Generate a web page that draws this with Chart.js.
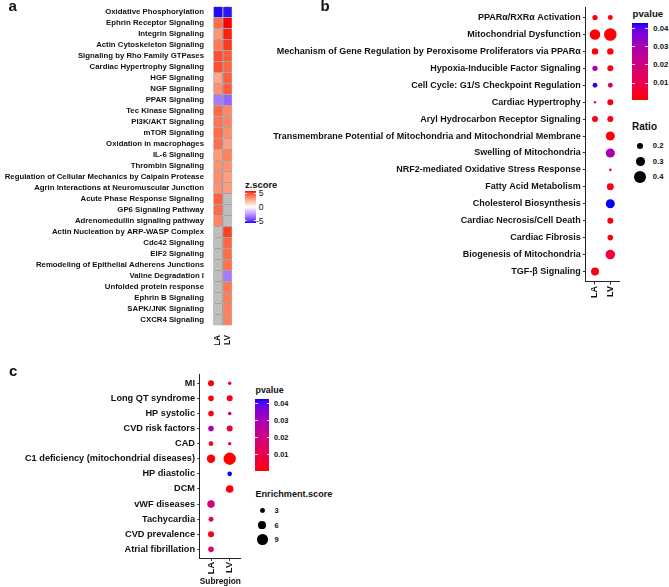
<!DOCTYPE html>
<html><head><meta charset="utf-8">
<script src="https://cdn.jsdelivr.net/npm/chart.js@4.4.1/dist/chart.umd.min.js"></script>
<style>
html,body{margin:0;padding:0;background:#fff;}
body{width:669px;height:587px;position:relative;overflow:hidden;font-family:"Liberation Sans",Arial,sans-serif;color:#111;}
canvas{position:absolute;}
.t{position:absolute;white-space:nowrap;line-height:1;color:#111;}
.d{position:absolute;border-radius:50%;background:#000;}
.bar{position:absolute;}
</style></head><body>
<script>
// ===================== DATA =====================
// Panel a: heatmap of z-scores
const heatPathways = [
  'Oxidative Phosphorylation','Ephrin Receptor Signaling','Integrin Signaling','Actin Cytoskeleton Signaling',
  'Signaling by Rho Family GTPases','Cardiac Hypertrophy Signaling','HGF Signaling','NGF Signaling','PPAR Signaling',
  'Tec Kinase Signaling','PI3K/AKT Signaling','mTOR Signaling','Oxidation in macrophages','IL-6 Signaling',
  'Thrombin Signaling','Regulation of Cellular Mechanics by Calpain Protease','Agrin Interactions at Neuromuscular Junction',
  'Acute Phase Response Signaling','GP6 Signaling Pathway','Adrenomedullin signaling pathway',
  'Actin Nucleation by ARP-WASP Complex','Cdc42 Signaling','EIF2 Signaling','Remodeling of Epithelial Adherens Junctions',
  'Valine Degradation I','Unfolded protein response','Ephrin B Signaling','SAPK/JNK Signaling','CXCR4 Signaling'
];
const heatColumns = ['LA','LV'];
const zLA = [-5.7,4.2,3.2,3.9,4.9,4.9,2.6,3.3,-3.3,4.3,4.0,4.2,4.2,3.0,3.3,3.4,3.3,4.5,4.3,3.6,
             null,null,null,null,null,null,null,null,null];
const zLV = [-5.6,5.8,5.6,5.3,4.6,4.4,4.6,4.6,-3.8,3.5,3.6,3.4,2.9,3.7,3.3,2.9,3.0,null,null,null,
             5.2,4.4,4.2,4.1,-3.3,3.9,3.8,3.7,3.7];
const zBreaks = [5,0,-5];

// Panel b: pathway enrichment bubbles
const bTerms = [
  'PPARα/RXRα Activation','Mitochondrial Dysfunction','Mechanism of Gene Regulation by Peroxisome Proliferators via PPARα',
  'Hypoxia-Inducible Factor Signaling','Cell Cycle: G1/S Checkpoint Regulation','Cardiac Hypertrophy',
  'Aryl Hydrocarbon Receptor Signaling','Transmembrane Potential of Mitochondria and Mitochondrial Membrane',
  'Swelling of Mitochondria','NRF2-mediated Oxidative Stress Response','Fatty Acid Metabolism','Cholesterol Biosynthesis',
  'Cardiac Necrosis/Cell Death','Cardiac Fibrosis','Biogenesis of Mitochondria','TGF-β Signaling'
];
const bColumns = ['LA','LV'];
const bRatioLA = [0.19,0.35,0.215,0.19,0.185,0.15,0.2,null,null,null,null,null,null,null,null,0.277];
const bRatioLV = [0.185,0.405,0.215,0.2,0.185,0.2,0.2,0.31,0.315,0.152,0.238,0.31,0.2,0.195,0.325,null];
const bPvalLA  = [0.001,0.00067,0.001,0.028,0.042,0.003,0.002,null,null,null,null,null,null,null,null,0.002];
const bPvalLV  = [0.001,0.0009,0.0012,0.002,0.017,0.002,0.002,0.001,0.030,0.005,0.002,0.0431,0.002,0.002,0.007,null];
const bPBreaks = [0.01,0.02,0.03,0.04];
const bRatioBreaks = [0.2,0.3,0.4];

// Panel c: disease enrichment bubbles
const cTerms = ['MI','Long QT syndrome','HP systolic','CVD risk factors','CAD','C1 deficiency (mitochondrial diseases)',
  'HP diastolic','DCM','vWF diseases','Tachycardia','CVD prevalence','Atrial fibrillation'];
const cColumns = ['LA','LV'];
const cScoreLA = [4.2,3.75,3.75,3.75,2.7,6.7,null,null,5.8,3.1,4.2,3.75];
const cScoreLV = [1.5,4.2,1.7,4.2,1.5,10.8,2.7,5.8,null,null,null,null];
const cPvalLA  = [0.001,0.001,0.002,0.028,0.002,0.00041,null,null,0.019,0.013,0.002,0.015];
const cPvalLV  = [0.011,0.003,0.017,0.007,0.005,0.0005,0.0429,0.001,null,null,null,null];
const cPBreaks = [0.01,0.02,0.03,0.04];
const cScoreBreaks = [3,6,9];

// ===================== COLOUR HELPERS (CIELAB interpolation) =====================
function toLin(c){c/=255;return c<=0.04045?c/12.92:Math.pow((c+0.055)/1.055,2.4);}
function fromLin(c){const v=c<=0.0031308?12.92*c:1.055*Math.pow(Math.max(c,0),1/2.4)-0.055;return Math.round(Math.min(1,Math.max(0,v))*255);}
const WX=0.95047,WY=1,WZ=1.08883;
function fl(t){return t>0.008856?Math.cbrt(t):7.787*t+16/116;}
function fi(t){return t>0.206893?t*t*t:(t-16/116)/7.787;}
function rgb2lab(c){const r=toLin(c[0]),g=toLin(c[1]),b=toLin(c[2]);
  const X=(r*0.4124564+g*0.3575761+b*0.1804375)/WX,Y=(r*0.2126729+g*0.7151522+b*0.0721750)/WY,Z=(r*0.0193339+g*0.1191920+b*0.9503041)/WZ;
  const fx=fl(X),fy=fl(Y),fz=fl(Z);return [116*fy-16,500*(fx-fy),200*(fy-fz)];}
function lab2rgb(l){const fy=(l[0]+16)/116,fx=fy+l[1]/500,fz=fy-l[2]/200;
  const X=fi(fx)*WX,Y=fi(fy)*WY,Z=fi(fz)*WZ;
  const r=3.2404542*X-1.5371385*Y-0.4985314*Z,g=-0.9692660*X+1.8760108*Y+0.0415560*Z,b=0.0556434*X-0.2040259*Y+1.0572252*Z;
  return 'rgb('+fromLin(r)+','+fromLin(g)+','+fromLin(b)+')';}
function mixLab(c1,c2,t){t=Math.max(0,Math.min(1,t));const a=rgb2lab(c1),b=rgb2lab(c2);
  return lab2rgb([a[0]+(b[0]-a[0])*t,a[1]+(b[1]-a[1])*t,a[2]+(b[2]-a[2])*t]);}
const RED=[255,0,0],BLUE=[0,0,255],WHITE=[255,255,255],NA_GREY='#bebebe';

const zLim = Math.max(...zLA.concat(zLV).filter(v=>v!=null).map(Math.abs));
function zColor(z){ if(z==null) return NA_GREY; return z>=0?mixLab(WHITE,RED,z/zLim):mixLab(WHITE,BLUE,-z/zLim); }
function pRange(a,b){const v=a.concat(b).filter(x=>x!=null);return [Math.min(...v),Math.max(...v)];}
const bPR = pRange(bPvalLA,bPvalLV), cPR = pRange(cPvalLA,cPvalLV);
function pColor(p,pr){return mixLab(RED,BLUE,(p-pr[0])/(pr[1]-pr[0]));}

// size scales
const bSizeKnots=[[0.15,1.2],[0.2,3],[0.3,4.3],[0.4,6.2]];
function sizeB(v){const k=bSizeKnots;let i=0;while(i<k.length-2&&v>k[i+1][0])i++;
  const [x0,y0]=k[i],[x1,y1]=k[i+1];return Math.max(0.8,y0+(y1-y0)*(v-x0)/(x1-x0));}
function sizeC(v){return 1+0.48*v;}

// ===================== DOM HELPERS =====================
function txt(s,x,cy,size,o){o=o||{};const d=document.createElement('div');d.className='t';d.textContent=s;
  d.style.fontSize=size+'px';d.style.fontWeight=o.w||'bold';
  const base=(o.base!=null)?o.base:cy+0.358*size;d.style.top=(base-0.8465*size)+'px';d.style.left=x+'px';
  if(o.align==='right')d.style.transform='translateX(-100%)';document.body.appendChild(d);return d;}
function dot(cx,cy,r){const d=document.createElement('div');d.className='d';d.style.left=(cx-r)+'px';d.style.top=(cy-r)+'px';
  d.style.width=(2*r)+'px';d.style.height=(2*r)+'px';document.body.appendChild(d);}
function colorbar(x,y,w,h,vmin,vmax,colFn,breaks){const d=document.createElement('div');d.className='bar';
  d.style.left=x+'px';d.style.top=y+'px';d.style.width=w+'px';d.style.height=h+'px';
  const stops=[];for(let i=0;i<=40;i++){const v=vmin+(vmax-vmin)*i/40;stops.push(colFn(v)+' '+(i*2.5)+'%');}
  d.style.background='linear-gradient(to top,'+stops.join(',')+')';document.body.appendChild(d);
  const ys=[];breaks.forEach(b=>{const yy=y+(vmax-b)/(vmax-vmin)*h;ys.push(yy);
    [x,x+w-w/5].forEach(xx=>{const t=document.createElement('div');t.className='bar';t.style.left=xx+'px';t.style.top=(yy-0.4)+'px';
      t.style.width=(w/5)+'px';t.style.height='0.8px';t.style.background='rgba(255,255,255,0.85)';document.body.appendChild(t);});});
  return ys;}
function mkCanvas(l,t,w,h){const c=document.createElement('canvas');c.width=w;c.height=h;c.style.left=l+'px';c.style.top=t+'px';
  c.style.width=w+'px';c.style.height=h+'px';document.body.appendChild(c);return c;}

Chart.defaults.font.family='"Liberation Sans", Arial, sans-serif';
Chart.defaults.color='#111';
const base={responsive:false,animation:false,devicePixelRatio:1,events:[],plugins:{legend:{display:false},tooltip:{enabled:false}}};

// ===================== PANEL A =====================
const cvA=mkCanvas(0,0,240,345);
new Chart(cvA,{type:'bar',
  data:{labels:heatPathways,datasets:heatColumns.map((col,ci)=>({label:col,
    data:heatPathways.map(()=>[ci,ci+1]),
    backgroundColor:(ci===0?zLA:zLV).map(zColor),borderColor:'#333',borderWidth:0.6,borderSkipped:false,
    grouped:false,categoryPercentage:1,barPercentage:1,inflateAmount:0}))},
  options:Object.assign({},base,{indexAxis:'y',layout:{padding:{top:6.5,right:4,left:0,bottom:0}},
    scales:{
      y:{type:'category',offset:true,grid:{display:false},border:{display:false},afterFit:s=>{s.width=213.3;},
         ticks:{autoSkip:false,padding:1.3,color:'#111',font:{size:7.8,weight:'bold'}}},
      x:{type:'linear',min:0,max:2,bounds:'data',grid:{display:false},border:{display:false},afterFit:s=>{s.height=19.5;},
         afterBuildTicks:a=>{a.ticks=heatColumns.map((_,i)=>({value:i+0.5}));},
         ticks:{autoSkip:false,maxRotation:90,minRotation:90,padding:1.5,color:'#111',font:{size:8.3,weight:'bold'},
                callback:v=>heatColumns[Math.floor(v)]}}
    }})});

// legend a
txt('a',8.5,0,15,{base:11});
txt('z.score',245,0,9.4,{base:187.7});
const zy=colorbar(245,190.7,11,32.3,-zLim,zLim,zColor,zBreaks);
zBreaks.forEach((b,i)=>txt(String(b),263.5,zy[i],8.5,{w:'normal',align:'right'}));

// ===================== PANEL B =====================
const cvB=mkCanvas(250,0,380,310);
function bubblePts(cols,valsArr,pArr,sizeFn){const pts=[];
  cols.forEach((c,ci)=>{valsArr[ci].forEach((v,i)=>{if(v!=null)pts.push({x:ci,y:i,r:sizeFn(v),p:pArr[ci][i]});});});return pts;}
function bubbleScales(cols,terms,o){return {
  x:{type:'linear',min:-0.6,max:cols.length-0.4,bounds:'data',afterFit:s=>{s.height=o.xh;},
     afterBuildTicks:a=>{a.ticks=cols.map((_,i)=>({value:i}));},
     ticks:{autoSkip:false,maxRotation:90,minRotation:90,padding:o.xpad,color:'#111',font:{size:o.fs,weight:'bold'},callback:v=>cols[v]},
     grid:{display:true,drawOnChartArea:false,drawTicks:true,tickLength:o.tl,color:'#333',lineWidth:1},
     border:{display:true,color:'#222',width:1},
     title:o.title?{display:true,text:o.title,padding:{top:0,bottom:0},color:'#111',font:{size:o.fs,weight:'bold'}}:{display:false}},
  y:{type:'linear',reverse:true,min:-0.6,max:terms.length-0.4,bounds:'data',afterFit:s=>{s.width=o.yw;},
     afterBuildTicks:a=>{a.ticks=terms.map((_,i)=>({value:i}));},
     ticks:{autoSkip:false,padding:o.ypad,color:'#111',font:{size:o.fs,weight:'bold'},callback:v=>terms[v]},
     grid:{display:true,drawOnChartArea:false,drawTicks:true,tickLength:o.tl,color:'#333',lineWidth:1},
     border:{display:true,color:'#222',width:1}}};}

new Chart(cvB,{type:'bubble',
  data:{datasets:[{data:bubblePts(bColumns,[bRatioLA,bRatioLV],[bPvalLA,bPvalLV],sizeB),
    backgroundColor:ctx=>ctx.raw?pColor(ctx.raw.p,bPR):'#f00',borderWidth:0,hoverRadius:0,clip:false}]},
  options:Object.assign({},base,{layout:{padding:{top:2.4,right:10.5,left:0,bottom:0}},
    scales:bubbleScales(bColumns,bTerms,{xh:28.4,yw:335.8,tl:3,xpad:1.5,ypad:2,fs:9})})});

txt('b',320.5,0,15,{base:11});
txt('pvalue',632.5,0,9.7,{base:17.3});
const by=colorbar(631.7,22.7,16.6,77.3,bPR[0],bPR[1],v=>pColor(v,bPR),bPBreaks);
bPBreaks.forEach((b,i)=>txt(b.toFixed(2),653.3,by[i],7.7));
txt('Ratio',632,0,10,{base:130.7});
[145.7,161.7,176.7].forEach((yy,i)=>{dot(640.3,yy,sizeB(bRatioBreaks[i]));txt(String(bRatioBreaks[i]),652.8,yy,7.7);});

// ===================== PANEL C =====================
const cvC=mkCanvas(0,365,252,222);
new Chart(cvC,{type:'bubble',
  data:{datasets:[{data:bubblePts(cColumns,[cScoreLA,cScoreLV],[cPvalLA,cPvalLV],sizeC),
    backgroundColor:ctx=>ctx.raw?pColor(ctx.raw.p,cPR):'#f00',borderWidth:0,hoverRadius:0,clip:false}]},
  options:Object.assign({},base,{layout:{padding:{top:9.2,right:11.1,left:0,bottom:0}},
    scales:bubbleScales(cColumns,cTerms,{xh:28.6,yw:199.8,tl:2.5,xpad:1,ypad:2.3,fs:9.2,title:'Subregion'})})});

txt('c',9,0,15,{base:376});
txt('pvalue',255.5,0,8.9,{base:393.3});
const cy=colorbar(254.8,398.7,14.7,72.3,cPR[0],cPR[1],v=>pColor(v,cPR),cPBreaks);
cPBreaks.forEach((b,i)=>txt(b.toFixed(2),274,cy[i],7.4));
txt('Enrichment.score',255.5,0,9.1,{base:498});
[510.7,525.3,539.7].forEach((yy,i)=>{dot(262.3,yy,sizeC(cScoreBreaks[i]));txt(String(cScoreBreaks[i]),274.5,yy,7.4);});
</script>
</body></html>
